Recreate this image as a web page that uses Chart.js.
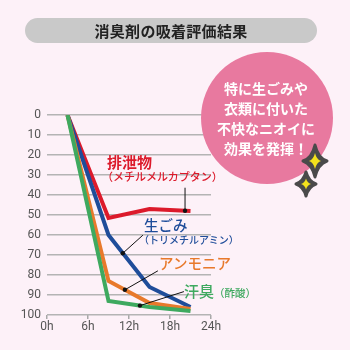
<!DOCTYPE html>
<html lang="ja">
<head>
<meta charset="utf-8">
<script src="https://cdn.jsdelivr.net/npm/chart.js@4"></script>
<style>
  html, body { margin: 0; padding: 0; }
  body {
    width: 350px; height: 350px; overflow: hidden; position: relative;
    background: #fdf1f8;
    font-family: "Noto Sans CJK JP", "Noto Sans", sans-serif;
  }
  #chart { position: absolute; left: 0; top: 0; }
  .title {
    position: absolute; left: 25px; top: 18px; width: 292px; height: 25px;
    border-radius: 13px; background: #c9c9c9;
    font-size: 15px; font-weight: 700; color: #222;
    text-align: center; line-height: 25px; letter-spacing: 0.3px;
  }
  .bubble {
    position: absolute; left: 201px; top: 52px; width: 132px; height: 132px;
    border-radius: 50%; background: #e8799f;
  }
  .bubble-text {
    position: absolute; left: 206px; top: 78px; width: 120px;
    color: #fff; font-size: 14px; font-weight: 700; line-height: 20px;
    text-align: center; white-space: nowrap;
  }
  .lbl { position: absolute; white-space: nowrap; line-height: 1; }
  .big { font-size: 15px; font-weight: 700; }
  .mid { font-size: 14.5px; font-weight: 500; }
  .small { font-size: 11px; font-weight: 500; }
  .tiny { font-size: 10px; font-weight: 500; }
  svg.sparkle { position: absolute; left: 0; top: 0; }
</style>
</head>
<body>
<canvas id="chart" width="350" height="350"></canvas>
<div class="title">消臭剤の吸着評価結果</div>
<div class="bubble"></div>
<div class="bubble-text">特に生ごみや<br>衣類に付いた<br>不快なニオイに<br>効果を発揮！</div>

<div class="lbl big" style="left:107px;top:154px;color:#dc1a2b">排泄物</div>
<div class="lbl small" style="left:102px;top:171px;color:#dc1a2b">（メチルメルカプタン）</div>
<div class="lbl mid" style="left:144px;top:218px;color:#1f4d9a">生ごみ</div>
<div class="lbl tiny" style="left:139px;top:235px;color:#1f4d9a">（トリメチルアミン）</div>
<div class="lbl mid" style="left:159px;top:256px;color:#e8792b">アンモニア</div>
<div class="lbl mid" style="left:184px;top:283px;color:#3ea95f;font-size:15px">汗臭<span style="font-size:10.5px">（酢酸）</span></div>

<svg class="sparkle" width="350" height="350">
  <path d="M315 145 Q318 158 327 161 Q318 164 315 177 Q312 164 303 161 Q312 158 315 145 Z"
        fill="#4a4a4a" stroke="#4a4a4a" stroke-width="3" stroke-linejoin="round"/>
  <path d="M315 153 Q316.5 159.5 321 161 Q316.5 162.5 315 169 Q313.5 162.5 309 161 Q313.5 159.5 315 153 Z"
        fill="#f4e21c"/>
  <path d="M306 172 Q308.5 181.5 316 184 Q308.5 186.5 306 196 Q303.5 186.5 296 184 Q303.5 181.5 306 172 Z"
        fill="#4a4a4a" stroke="#4a4a4a" stroke-width="3" stroke-linejoin="round"/>
  <path d="M306 178.5 Q307.2 182.8 311 184 Q307.2 185.2 306 189.5 Q304.8 185.2 301 184 Q304.8 182.8 306 178.5 Z"
        fill="#f4e21c"/>
</svg>

<script>
// elapsed hours and residual odour (%) per sample
const hours    = [3, 9, 15, 21];
const excreta  = [0, 51.5, 47, 48];   // メチルメルカプタン
const garbage  = [0, 60, 86, 96];     // トリメチルアミン
const ammonia  = [0, 83, 94, 97];     // アンモニア
const sweat    = [0, 93, 96, 98];     // 酢酸
const xTicks   = [0, 6, 12, 18, 24];
const yTicks   = [0, 10, 20, 30, 40, 50, 60, 70, 80, 90, 100];

const RED = '#dc1a2b', BLUE = '#1f4d9a', ORANGE = '#e8792b', GREEN = '#3ea95f';
const AXIS_FONT = { family: "'Liberation Sans Narrow', 'Roboto', sans-serif", size: 12 };

const pts = vals => hours.map((h, i) => ({ x: h, y: vals[i] }));

// leader lines: anchor hour on a series, then pixel offset to the label end
const leaders = [
  { vals: excreta, hour: 20.2, dx: 0,  dy: -23 },
  { vals: garbage, hour: 11.1, dx: 20, dy: -18 },
  { vals: ammonia, hour: 11.4, dx: 33, dy: -19 },
  { vals: sweat,   hour: 13.6, dx: 44, dy: -14 },
];

function valueAt(vals, h) {
  for (let i = 0; i < hours.length - 1; i++) {
    if (h >= hours[i] && h <= hours[i + 1]) {
      const t = (h - hours[i]) / (hours[i + 1] - hours[i]);
      return vals[i] + t * (vals[i + 1] - vals[i]);
    }
  }
  return vals[vals.length - 1];
}

const leaderPlugin = {
  id: 'leaders',
  afterDatasetsDraw(chart) {
    const { ctx, scales: { x, y } } = chart;
    ctx.save();
    ctx.strokeStyle = '#111';
    ctx.fillStyle = '#111';
    ctx.lineWidth = 1;
    leaders.forEach(l => {
      const px = x.getPixelForValue(l.hour);
      const py = y.getPixelForValue(valueAt(l.vals, l.hour));
      ctx.beginPath();
      ctx.moveTo(px, py);
      ctx.lineTo(px + l.dx, py + l.dy);
      ctx.stroke();
      ctx.beginPath();
      ctx.arc(px, py, 2.2, 0, Math.PI * 2);
      ctx.fill();
    });
    ctx.restore();
  },
};

const line = (vals, color) => ({
  data: pts(vals),
  borderColor: color,
  borderWidth: 4,
  pointRadius: 0,
  tension: 0,
  borderJoinStyle: 'miter',
  fill: false,
});

new Chart(document.getElementById('chart'), {
  type: 'line',
  data: {
    datasets: [
      line(sweat, GREEN),
      line(ammonia, ORANGE),
      line(garbage, BLUE),
      line(excreta, RED),
    ],
  },
  options: {
    responsive: false,
    animation: false,
    events: [],
    layout: { padding: { top: 115, right: 139, bottom: 0, left: 0 } },
    plugins: { legend: { display: false }, tooltip: { enabled: false } },
    scales: {
      x: {
        type: 'linear', min: 0, max: 24,
        afterBuildTicks: s => { s.ticks = xTicks.map(v => ({ value: v })); },
        afterFit: s => { s.height = 35; },
        border: { display: false },
        grid: { drawOnChartArea: false, drawTicks: true, tickLength: 4, color: '#a8a8a8', lineWidth: 1.5 },
        ticks: { callback: v => v + 'h', color: '#555', font: AXIS_FONT, padding: 1, maxRotation: 0 },
      },
      y: {
        reverse: true, min: 0, max: 100,
        afterBuildTicks: s => { s.ticks = yTicks.map(v => ({ value: v })); },
        afterFit: s => { s.width = 47; },
        border: { display: false },
        grid: { drawTicks: false, color: '#b4b4b4', lineWidth: 1.5 },
        ticks: { color: '#555', font: AXIS_FONT, padding: 6 },
      },
    },
  },
  plugins: [leaderPlugin],
});
</script>
</body>
</html>
